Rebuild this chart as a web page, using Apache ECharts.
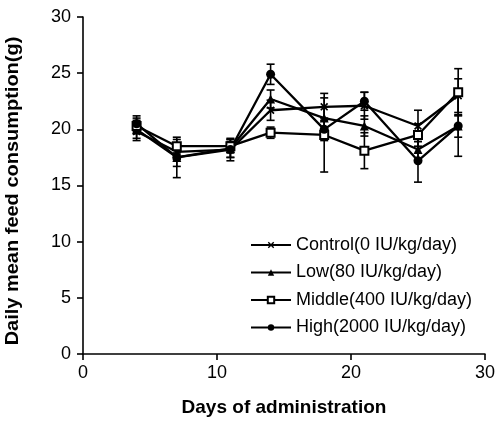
<!DOCTYPE html>
<html><head><meta charset="utf-8">
<script src="https://cdn.jsdelivr.net/npm/echarts@6/dist/echarts.min.js"></script>
<style>html,body{margin:0;padding:0;background:#fff}#c{width:498px;height:422px}</style>
</head><body><div id="c"></div>
<script>
const days = [4, 7, 11, 14, 18, 21, 25, 28];
const seriesNames = ['Control(0 IU/kg/day)', 'Low(80 IU/kg/day)', 'Middle(400 IU/kg/day)', 'High(2000 IU/kg/day)'];
const controlMean = [19.8, 18.0, 18.2, 21.7, 22.0, 22.1, 20.3, 23.0];
const controlSD   = [0.8, 0.7, 0.7, 0.9, 1.2, 1.2, 1.4, 1.5];
const lowMean     = [20.0, 17.5, 18.3, 22.7, 21.0, 20.3, 18.2, 20.3];
const lowSD       = [0.8, 1.8, 0.8, 0.8, 1.0, 0.9, 1.0, 2.7];
const middleMean  = [20.3, 18.5, 18.5, 19.7, 19.5, 18.1, 19.5, 23.3];
const middleSD    = [0.7, 0.6, 0.6, 0.5, 3.3, 1.6, 1.0, 2.1];
const highMean    = [20.5, 17.5, 18.2, 24.9, 20.0, 22.5, 17.2, 20.3];
const highSD      = [0.7, 0.8, 1.0, 0.9, 1.0, 0.8, 1.9, 1.0];
const xTicks = [0, 10, 20, 30];
const yTicks = [0, 5, 10, 15, 20, 25, 30];

const FONT = 'Liberation Sans, Arial, Helvetica, sans-serif';
const means = [controlMean, lowMean, middleMean, highMean];
const sds = [controlSD, lowSD, middleSD, highSD];
const symbols = [
  'path://M0,1.5L1.5,0L5,3.5L8.5,0L10,1.5L6.5,5L10,8.5L8.5,10L5,6.5L1.5,10L0,8.5L3.5,5Z',
  'triangle', 'emptyRect', 'circle'
];
const symSizes = [8, 9, 8, 9];

const chart = echarts.init(document.getElementById('c'));
const series = [];
means.forEach((m, i) => {
  series.push({
    name: seriesNames[i], type: 'line', data: days.map((d, j) => [d, m[j]]),
    symbol: symbols[i], symbolSize: symSizes[i],
    lineStyle: {color: '#000', width: 2.3},
    itemStyle: {color: '#000', borderColor: '#000', borderWidth: i === 2 ? 1.6 : 0},
    z: 3
  });
  series.push({
    type: 'custom', name: seriesNames[i] + ' err',
    data: days.map((d, j) => [d, m[j] - sds[i][j], m[j] + sds[i][j]]),
    renderItem: function (params, api) {
      const lo = api.coord([api.value(0), api.value(1)]);
      const hi = api.coord([api.value(0), api.value(2)]);
      const w = 4;
      const st = {stroke: '#000', lineWidth: 1.6};
      return {type: 'group', children: [
        {type: 'line', shape: {x1: lo[0], y1: lo[1], x2: hi[0], y2: hi[1]}, style: st},
        {type: 'line', shape: {x1: lo[0]-w, y1: lo[1], x2: lo[0]+w, y2: lo[1]}, style: st},
        {type: 'line', shape: {x1: hi[0]-w, y1: hi[1], x2: hi[0]+w, y2: hi[1]}, style: st}
      ]};
    },
    z: 2, silent: true
  });
});

chart.setOption({
  animation: false,
  backgroundColor: '#fff',
  grid: {left: 83, right: 12, top: 17, bottom: 65},
  legend: {
    data: seriesNames, orient: 'vertical', left: 245, top: 231,
    itemWidth: 40, itemHeight: 8, itemGap: 9.5,
    textStyle: {fontFamily: FONT, fontSize: 18, color: '#000'}
  },
  xAxis: {
    type: 'value', min: 0, max: 30, interval: 10,
    name: 'Days of administration', nameLocation: 'middle', nameGap: 44,
    nameTextStyle: {fontFamily: FONT, fontSize: 19, fontWeight: 'bold', color: '#000'},
    axisLine: {show: true, lineStyle: {color: '#000', width: 1.6}},
    axisTick: {show: true, length: 6, lineStyle: {color: '#000', width: 1.6}},
    axisLabel: {fontFamily: FONT, fontSize: 18, color: '#000', margin: 10,
      formatter: v => xTicks.includes(v) ? String(v) : ''},
    splitLine: {show: false}
  },
  yAxis: {
    type: 'value', min: 0, max: 30, interval: 5,
    axisLine: {show: true, lineStyle: {color: '#000', width: 1.6}},
    axisTick: {show: true, length: 6, lineStyle: {color: '#000', width: 1.6}},
    axisLabel: {fontFamily: FONT, fontSize: 18, color: '#000', margin: 12,
      formatter: v => yTicks.includes(v) ? String(v) : ''},
    splitLine: {show: false}
  },
  graphic: [{
    type: 'text', x: 13, y: 191, rotation: Math.PI / 2, scaleX: 1.11,
    style: {text: 'Daily mean feed consumption(g)', fontFamily: FONT,
      fontSize: 18, fontWeight: 'bold', fill: '#000', align: 'center', verticalAlign: 'middle'}
  }],
  series: series
});
</script></body></html>
